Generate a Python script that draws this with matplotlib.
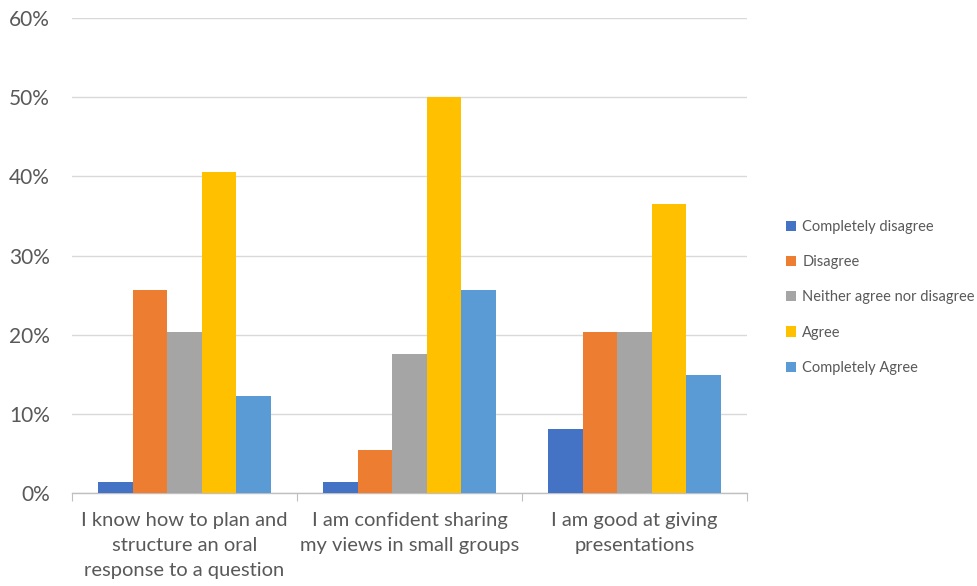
import matplotlib
matplotlib.use("Agg")
import matplotlib.pyplot as plt
import numpy as np
from matplotlib.patches import Patch
from matplotlib.ticker import FuncFormatter

categories = [
    "I know how to plan and\nstructure an oral\nresponse to a question",
    "I am confident sharing\nmy views in small groups",
    "I am good at giving\npresentations",
]
series_names = ["Completely disagree", "Disagree", "Neither agree nor disagree",
                "Agree", "Completely Agree"]
completely_disagree = [1.35, 1.35, 8.1]
disagree = [25.7, 5.4, 20.3]
neither = [20.3, 17.6, 20.3]
agree = [40.5, 50.0, 36.5]
completely_agree = [12.2, 25.7, 14.9]
series_values = [completely_disagree, disagree, neither, agree, completely_agree]
colors = ["#4472C4", "#ED7D31", "#A5A5A5", "#FFC000", "#5B9BD5"]

plt.rcParams['font.family'] = ['Lato', 'DejaVu Sans']
text_color = "#595959"

fig = plt.figure(figsize=(9.77, 5.86), dpi=100)
ax = fig.add_axes([72/977, 1-493/586, 675/977, 475/586])

x = np.arange(len(categories))
bw = 0.153
for i, (vals, c) in enumerate(zip(series_values, colors)):
    ax.bar(x + (i - 2) * bw, vals, width=bw, color=c, zorder=3)

ax.set_xlim(-0.5, 2.5)
ax.set_ylim(0, 60)
ax.set_yticks(np.arange(0, 61, 10))
ax.yaxis.set_major_formatter(FuncFormatter(lambda v, p: f"{int(v)}%"))
ax.grid(axis='y', color="#D9D9D9", linewidth=1, zorder=0)
for s in ['top', 'right', 'left']:
    ax.spines[s].set_visible(False)
ax.spines['bottom'].set_color("#BFBFBF")
ax.spines['bottom'].set_linewidth(1)
ax.tick_params(axis='y', length=0, pad=16, labelsize=15, labelcolor=text_color)

ax.set_xticks([-0.5, 0.5, 1.5, 2.5])
ax.set_xticklabels([])
ax.tick_params(axis='x', which='major', length=6, color="#BFBFBF", direction='out')
ax.set_xticks(x, minor=True)
ax.set_xticklabels(categories, minor=True, fontsize=14.5, color=text_color, linespacing=1.55)
ax.tick_params(axis='x', which='minor', length=0, pad=14)

handles = [Patch(facecolor=c, edgecolor='none') for c in colors]
fig.legend(handles, series_names, loc='upper left', bbox_to_anchor=(773/977, 1-207/586),
           frameon=False, fontsize=10.5, labelcolor=text_color, handlelength=0.7,
           handleheight=0.7, handletextpad=0.4, labelspacing=1.45)

fig.savefig("out.png", dpi=100)
